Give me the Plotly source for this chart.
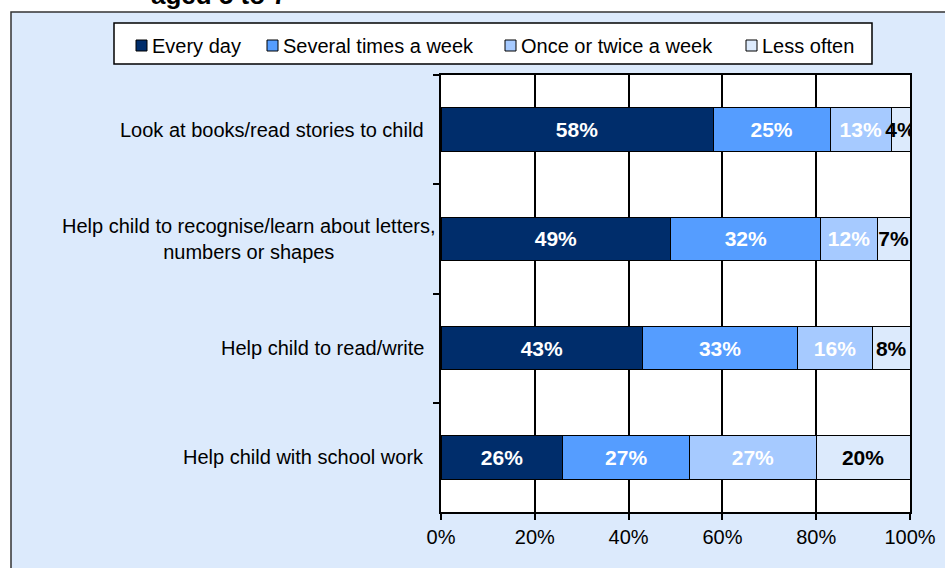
import plotly.graph_objects as go

# Home learning activities with children aged 5 to 7 (% of parents)
activities = [
    "Look at books/read stories to child",
    "Help child to recognise/learn about letters,<br>numbers or shapes",
    "Help child to read/write",
    "Help child with school work",
]
series_names = ["Every day", "Several times a week", "Once or twice a week", "Less often"]
every_day = [58, 49, 43, 26]
several_week = [25, 32, 33, 27]
once_twice_week = [13, 12, 16, 27]
less_often = [4, 7, 8, 20]
x_ticks = [0, 20, 40, 60, 80, 100]
x_tick_labels = ["0%", "20%", "40%", "60%", "80%", "100%"]

series_values = [every_day, several_week, once_twice_week, less_often]
colors = ["#002D6B", "#559DFF", "#A6CAFF", "#DCEAFC"]
text_colors = ["white", "white", "white", "black"]

W, H = 945, 568
L, R, T, B = 441, 35, 75, 56
pw, ph = W - L - R, H - T - B


def px_x(p):
    return (p - L) / pw


def px_y(p):
    return 1 - (p - T) / ph


FONT = "Liberation Sans, Arial, sans-serif"

fig = go.Figure()
for name, vals, col, tcol in zip(series_names, series_values, colors, text_colors):
    fig.add_trace(go.Bar(
        y=activities, x=vals, name=name, orientation="h",
        marker=dict(color=col, line=dict(color="black", width=1)),
        text=[f"{v}%" for v in vals], textposition="inside",
        insidetextanchor="middle", textangle=0, constraintext="none",
        textfont=dict(family=FONT, size=21, color=tcol, weight="bold"),
        hoverinfo="skip", showlegend=False,
    ))

# Chart area panel and white plot area
fig.add_shape(type="rect", xref="paper", yref="paper", layer="below",
              x0=px_x(11), x1=px_x(960), y0=px_y(580), y1=px_y(12),
              fillcolor="#DCEAFC", line=dict(color="#333333", width=1.5))
fig.add_shape(type="rect", xref="paper", yref="paper", layer="below",
              x0=0, x1=1, y0=0, y1=1, fillcolor="white", line=dict(width=0))

# Legend: framed box with one small swatch + label per series
fig.add_shape(type="rect", xref="paper", yref="paper",
              x0=px_x(114), x1=px_x(872), y0=px_y(64), y1=px_y(23),
              fillcolor="white", line=dict(color="black", width=1.5))
swatch_left = [136, 267, 505, 746]
for name, col, sx in zip(series_names, colors, swatch_left):
    fig.add_shape(type="rect", xref="paper", yref="paper",
                  x0=px_x(sx), x1=px_x(sx + 11), y0=px_y(51), y1=px_y(40),
                  fillcolor=col, line=dict(color="black", width=1))
    fig.add_annotation(x=px_x(sx + 14), xref="paper", y=px_y(45.5), yref="paper",
                       text=name, xanchor="left", yanchor="middle",
                       showarrow=False,
                       font=dict(family=FONT, size=20, color="black"))

# Category labels; wrapped labels are centred line by line
for label in activities:
    wrapped = "<br>" in label
    fig.add_annotation(x=0, xref="paper", y=label, yref="y", text=label,
                       xanchor="right", yanchor="middle", align="center",
                       xshift=-3 if wrapped else -15, showarrow=False,
                       font=dict(family=FONT, size=20, color="black"))

fig.add_annotation(x=px_x(219), xref="paper", y=px_y(12), yref="paper",
                   text="aged 5 to 7", xanchor="center", yanchor="bottom",
                   showarrow=False,
                   font=dict(family=FONT, size=26, color="black", weight="bold"))

fig.update_layout(
    width=W, height=H, barmode="stack", bargap=0.6,
    margin=dict(l=L, r=R, t=T, b=B, autoexpand=False),
    paper_bgcolor="white", plot_bgcolor="white",
    font=dict(family=FONT, size=20, color="black"),
    showlegend=False,
    xaxis=dict(range=[0, 100], tickmode="array", tickvals=x_ticks,
               ticktext=x_tick_labels, automargin=False,
               showgrid=True, gridcolor="black", gridwidth=1.5,
               ticks="outside", ticklen=6, tickcolor="black", tickwidth=1.5,
               showline=True, linecolor="black", linewidth=1.5, mirror=True,
               zeroline=False, fixedrange=True,
               tickfont=dict(family=FONT, size=20, color="black")),
    yaxis=dict(type="category", categoryorder="array", categoryarray=activities,
               autorange="reversed", tickson="boundaries", automargin=False,
               ticks="outside", ticklen=6, tickcolor="black", tickwidth=1.5,
               showticklabels=False, showgrid=False,
               showline=True, linecolor="black", linewidth=1.5, mirror=True,
               fixedrange=True),
)

fig.write_html("out.html")
